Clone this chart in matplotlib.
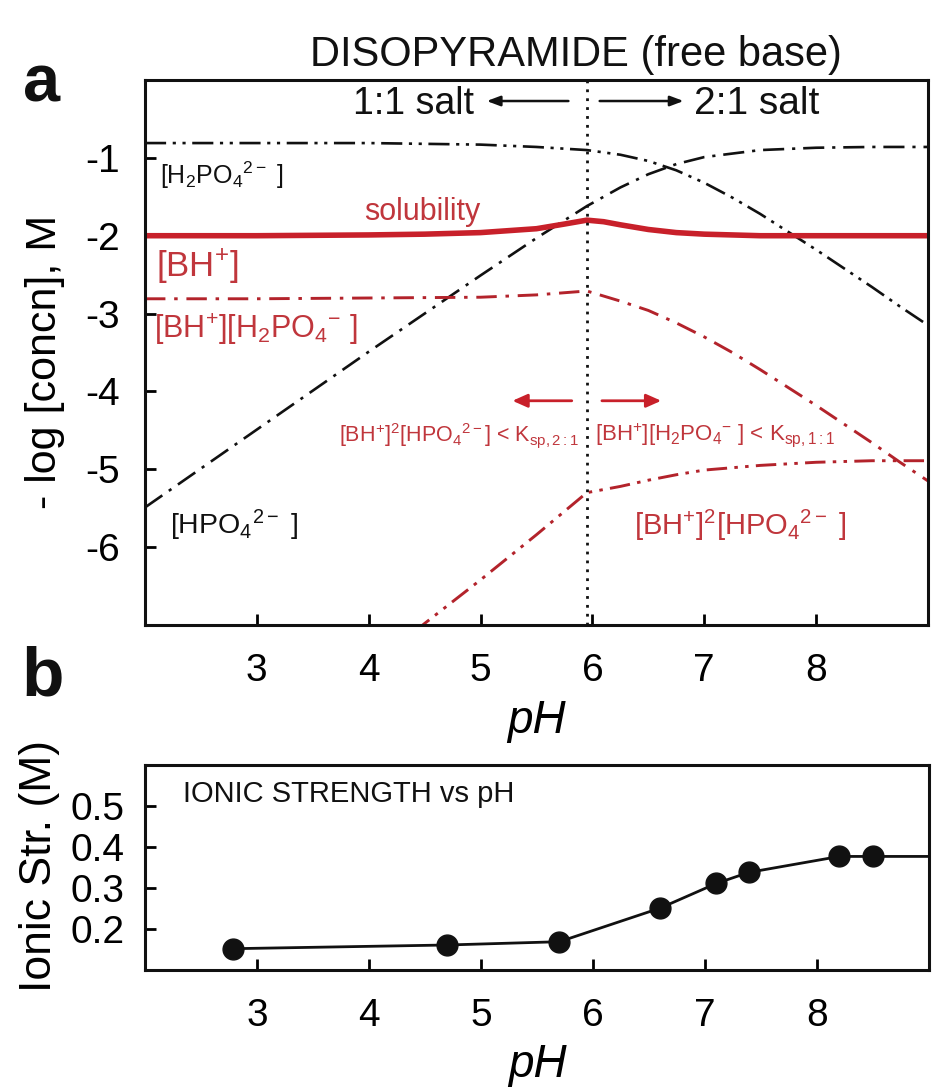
import matplotlib
matplotlib.use("Agg")
import matplotlib.pyplot as plt

plt.rcParams['font.family'] = ['Liberation Sans', 'DejaVu Sans']
plt.rcParams['mathtext.fontset'] = 'custom'
plt.rcParams['mathtext.rm'] = 'Liberation Sans'
plt.rcParams['mathtext.it'] = 'Liberation Sans:italic'
plt.rcParams['mathtext.bf'] = 'Liberation Sans:bold'

# ---------------- data (panel a) ----------------
ph_h2po4 = [2.0, 3.0, 4.0, 4.5, 5.0, 5.5, 5.95, 6.25, 6.5, 6.75, 7.0, 7.25, 7.5, 7.75, 8.0, 8.25, 8.5, 8.75, 9.0]
log_h2po4 = [-0.81, -0.81, -0.81, -0.82, -0.83, -0.86, -0.90, -0.96, -1.04, -1.16, -1.32, -1.51, -1.72, -1.95, -2.18, -2.42, -2.66, -2.91, -3.15]

ph_hpo4 = [2.0, 3.0, 4.0, 4.5, 5.0, 5.5, 5.95, 6.25, 6.5, 6.75, 7.0, 7.5, 8.0, 8.5, 9.0]
log_hpo4 = [-5.49, -4.49, -3.49, -3.00, -2.51, -2.03, -1.62, -1.38, -1.21, -1.08, -0.99, -0.90, -0.87, -0.86, -0.86]

ph_sol = [2.0, 3.0, 4.0, 4.5, 5.0, 5.5, 5.75, 5.95, 6.1, 6.25, 6.5, 6.75, 7.0, 7.5, 8.0, 9.0]
log_sol = [-2.00, -2.00, -1.99, -1.98, -1.96, -1.91, -1.85, -1.80, -1.82, -1.86, -1.92, -1.96, -1.98, -2.00, -2.00, -2.00]

ph_bh_h2po4 = [2.0, 3.0, 4.0, 5.0, 5.5, 5.95, 6.25, 6.5, 6.75, 7.0, 7.25, 7.5, 7.75, 8.0, 8.25, 8.5, 8.75, 9.0]
log_bh_h2po4 = [-2.81, -2.81, -2.80, -2.79, -2.76, -2.71, -2.84, -2.96, -3.12, -3.30, -3.50, -3.72, -3.95, -4.18, -4.42, -4.66, -4.91, -5.15]

ph_bh2_hpo4 = [4.4, 4.5, 5.0, 5.5, 5.95, 6.25, 6.5, 6.75, 7.0, 7.5, 8.0, 8.5, 9.0]
log_bh2_hpo4 = [-7.10, -6.98, -6.42, -5.84, -5.30, -5.22, -5.14, -5.07, -5.01, -4.95, -4.91, -4.89, -4.89]

ph_max = 5.95
xticks = [3, 4, 5, 6, 7, 8]
yticks_a = [-1, -2, -3, -4, -5, -6]

# ---------------- data (panel b) ----------------
ph_ionic = [2.79, 4.70, 5.70, 6.60, 7.10, 7.39, 8.20, 8.50, 9.0]
ionic = [0.152, 0.161, 0.169, 0.251, 0.311, 0.338, 0.377, 0.377, 0.377]
yticks_b = [0.2, 0.3, 0.4, 0.5]

BLACK = '#111111'
RED = '#c8202a'
RED_D = '#b3232b'
RED_T = '#c0363c'

W, H = 940, 1090
fig = plt.figure(figsize=(9.4, 10.9), dpi=100)
fig.patch.set_facecolor('white')

axa = fig.add_axes([145/W, 1-625/H, (928-145)/W, (625-80)/H])
axb = fig.add_axes([145/W, 1-970/H, (929-145)/W, (970-765)/H])

for ax in (axa, axb):
    for s in ax.spines.values():
        s.set_linewidth(2.2)
        s.set_color(BLACK)
    ax.tick_params(direction='in', length=8, width=2, labelsize=28, top=False, right=False)
    ax.tick_params(axis='x', pad=20)
    ax.set_xlim(2, 9)
    ax.set_xticks(xticks)
axa.tick_params(axis='y', pad=18)
axb.tick_params(axis='y', pad=15)

# panel a lines
axa.plot(ph_h2po4, log_h2po4, color=BLACK, lw=1.9, dashes=(8, 2.5, 1.2, 2.5, 1.2, 2.5))
axa.plot(ph_hpo4, log_hpo4, color=BLACK, lw=1.9, dashes=(8, 3, 1.2, 3))
axa.plot(ph_sol, log_sol, color=RED, lw=4.0, solid_capstyle='butt')
axa.plot(ph_bh_h2po4, log_bh_h2po4, color=RED_D, lw=2.1, dashes=(7, 3, 1.2, 3))
axa.plot(ph_bh2_hpo4, log_bh2_hpo4, color=RED_D, lw=2.1, dashes=(7, 2.5, 1.2, 2.5, 1.2, 2.5))
axa.axvline(ph_max, color=BLACK, lw=2.0, linestyle=(0, (1, 2.2)))

axa.set_ylim(-7, 0)
axa.set_yticks(yticks_a)
axa.set_yticklabels([str(v) for v in yticks_a])

# axis labels
fig.text(0.5 * (145 + 928) / W, 1 - 721/H, 'pH', fontsize=33, style='italic', ha='center', va='center')
fig.text(0.5 * (145 + 929) / W, 1 - 1065/H, 'pH', fontsize=33, style='italic', ha='center', va='center')
fig.text(45/W, 1 - 362/H, '- log [concn], M', fontsize=31, rotation=90, ha='center', va='center')
fig.text(40/W, 1 - 866/H, 'Ionic Str. (M)', fontsize=32, rotation=90, ha='center', va='center')

# labels in panel a
axa.text(2.13, -1.23, r'[H$_2$PO$_4$$^{2-}$ ]', fontsize=18, color=BLACK, ha='left', va='center')
axa.text(3.96, -1.70, 'solubility', fontsize=22, color=RED_T, ha='left', va='center')
axa.text(2.10, -2.40, r'[BH$^{+}$]', fontsize=25, color=RED_T, ha='left', va='center')
axa.text(2.08, -3.20, r'[BH$^{+}$][H$_2$PO$_4$$^{-}$ ]', fontsize=22, color=RED_T, ha='left', va='center')
axa.text(2.22, -5.72, r'[HPO$_4$$^{2-}$ ]', fontsize=20.5, color=BLACK, ha='left', va='center')
axa.text(7.32, -5.72, r'[BH$^{+}$]$^2$[HPO$_4$$^{2-}$ ]', fontsize=21, color=RED_T, ha='center', va='center')
axa.text(5.88, -4.56, r'[BH$^{+}$]$^2$[HPO$_4$$^{2-}$] < K$_{\mathrm{sp,2:1}}$', fontsize=15.5, color=RED_T, ha='right', va='center')
axa.text(6.02, -4.56, r'[BH$^{+}$][H$_2$PO$_4$$^{-}$ ] < K$_{\mathrm{sp,1:1}}$', fontsize=16, color=RED_T, ha='left', va='center')

# arrows
axa.annotate('', xy=(5.26, -4.12), xytext=(5.84, -4.12),
             arrowprops=dict(arrowstyle='-|>,head_length=0.9,head_width=0.4', color=RED, lw=2))
axa.annotate('', xy=(6.64, -4.12), xytext=(6.06, -4.12),
             arrowprops=dict(arrowstyle='-|>,head_length=0.9,head_width=0.4', color=RED, lw=2))
axa.annotate('', xy=(5.03, -0.27), xytext=(5.81, -0.27),
             arrowprops=dict(arrowstyle='-|>,head_length=0.8,head_width=0.3', color=BLACK, lw=1.8))
axa.annotate('', xy=(6.84, -0.27), xytext=(6.04, -0.27),
             arrowprops=dict(arrowstyle='-|>,head_length=0.8,head_width=0.3', color=BLACK, lw=1.8))
axa.text(4.94, -0.31, '1:1 salt', fontsize=27, color=BLACK, ha='right', va='center')
axa.text(6.91, -0.31, '2:1 salt', fontsize=28, color=BLACK, ha='left', va='center')

fig.text(576/W, 1-55/H, 'DISOPYRAMIDE (free base)', fontsize=30, ha='center', va='center', color=BLACK)
fig.text(42/W, 1-84/H, 'a', fontsize=48, fontweight='bold', ha='center', va='center', color=BLACK)
fig.text(43/W, 1-678/H, 'b', fontsize=50, fontweight='bold', ha='center', va='center', color=BLACK)

# panel b
axb.plot(ph_ionic, ionic, color=BLACK, lw=2.0, marker='o', markersize=15,
         markevery=list(range(len(ph_ionic) - 1)))
axb.set_ylim(0.1, 0.6)
axb.set_yticks(yticks_b)
axb.set_yticklabels(['0.2', '0.3', '0.4', '0.5'])
axb.text(2.34, 0.53, 'IONIC STRENGTH vs pH', fontsize=21, color=BLACK, ha='left', va='center')

fig.savefig('out.png', dpi=100, facecolor='white')
